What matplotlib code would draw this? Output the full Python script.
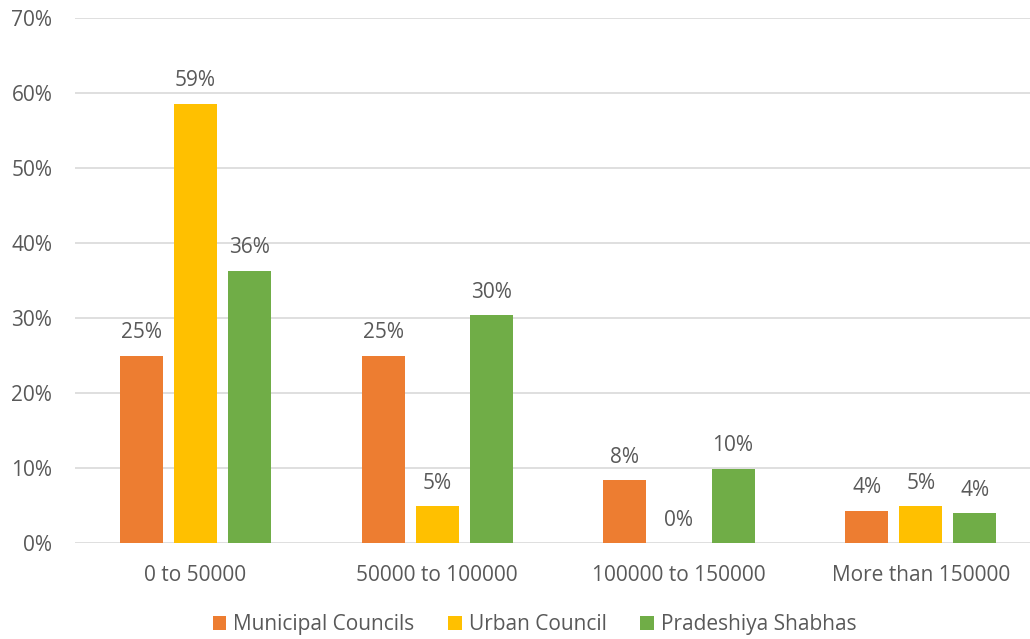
import matplotlib.pyplot as plt
import numpy as np

plt.rcParams['font.family'] = ['Open Sans', 'DejaVu Sans']

# population ranges and share of councils in each
categories = ['0 to 50000', '50000 to 100000', '100000 to 150000', 'More than 150000']
municipal = [25.0, 25.0, 8.4, 4.3]
urban = [58.6, 4.9, 0.0, 4.9]
pradeshiya = [36.3, 30.4, 9.9, 4.0]
series_names = ['Municipal Councils', 'Urban Council', 'Pradeshiya Shabhas']
colors = ['#ED7D31', '#FFC000', '#70AD47']
text_col = '#595959'

fig = plt.figure(figsize=(10.30, 6.39), dpi=100)
ax = fig.add_axes([0.0724, 0.1502, 0.9389, 0.8216])

x = np.arange(len(categories))
w = 0.178
step = 0.2236
for i, (vals, name, c) in enumerate(zip([municipal, urban, pradeshiya], series_names, colors)):
    pos = x + (i - 1) * step
    bars = ax.bar(pos, vals, width=w, color=c, label=name, zorder=3)
    for b, v in zip(bars, vals):
        ax.annotate(f'{v:.0f}%', (b.get_x() + b.get_width() / 2, v),
                    xytext=(0, 9), textcoords='offset points',
                    ha='center', va='bottom', fontsize=15, color=text_col)

ax.set_xlim(-0.5, len(categories) - 0.5)
ax.set_ylim(0, 70)
ax.set_yticks(range(0, 71, 10))
ax.set_yticklabels([f'{t}%' for t in range(0, 71, 10)])
ax.set_xticks(x)
ax.set_xticklabels(categories)
ax.tick_params(axis='both', length=0, labelsize=15, labelcolor=text_col)
ax.tick_params(axis='x', pad=16)
ax.tick_params(axis='y', pad=16)
ax.grid(axis='y', color='#D9D9D9', lw=1.2, zorder=0)
for s in ax.spines.values():
    s.set_visible(False)

fig.legend(loc='center', bbox_to_anchor=(0.519, 0.022), ncol=3, frameon=False,
           fontsize=15, labelcolor=text_col, handlelength=0.65, handleheight=0.65,
           handletextpad=0.35, columnspacing=1.6)

fig.savefig('out.png', dpi=100)
